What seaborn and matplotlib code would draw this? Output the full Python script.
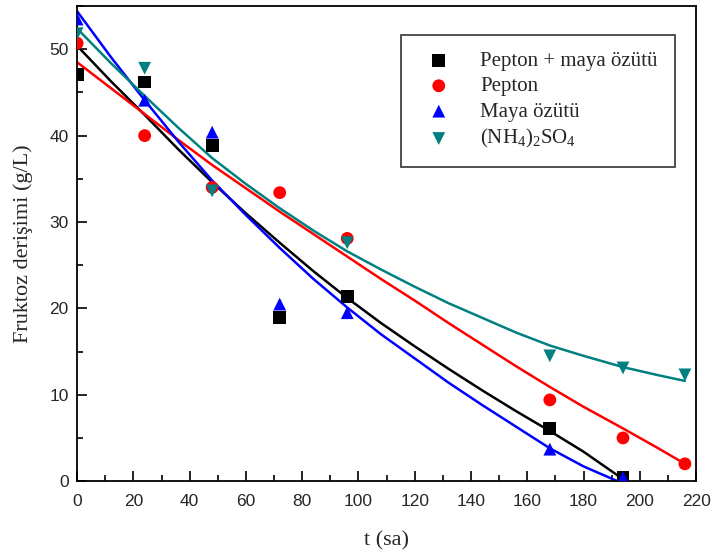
import matplotlib
matplotlib.use("Agg")
import matplotlib.pyplot as plt
from matplotlib.ticker import MultipleLocator
import seaborn as sns

# ---- data ----
series_names = ["Pepton + maya özütü", "Pepton", "Maya özütü", "(NH$_4$)$_2$SO$_4$"]

t_black = [0, 24, 48, 72, 96, 168, 194]
y_black = [47.1, 46.2, 38.9, 18.9, 21.4, 6.1, 0.4]

t_red = [0, 24, 48, 72, 96, 168, 194, 216]
y_red = [50.7, 40.0, 34.0, 33.4, 28.1, 9.4, 5.0, 2.0]

t_blue = [0, 24, 48, 72, 96, 168, 194]
y_blue = [53.5, 44.1, 40.4, 20.5, 19.5, 3.7, 0.4]

t_teal = [0, 24, 48, 96, 168, 194, 216]
y_teal = [51.8, 47.8, 33.6, 27.6, 14.5, 13.1, 12.3]

# fitted curves
fit_t_black = [0, 12, 24, 36, 48, 60, 72, 84, 96, 108, 120, 132, 144, 156, 168, 180, 195]
fit_y_black = [50.4, 46.3, 42.4, 38.4, 34.6, 31.0, 27.6, 24.3, 21.2, 18.3, 15.6, 13.0, 10.5, 8.1, 5.8, 3.4, 0.0]
fit_t_red = [0, 12, 24, 36, 48, 60, 72, 84, 96, 108, 120, 132, 144, 156, 168, 180, 194, 206, 216]
fit_y_red = [48.5, 45.5, 42.5, 39.5, 36.6, 33.9, 31.2, 28.6, 26.0, 23.4, 20.9, 18.3, 15.8, 13.3, 10.9, 8.6, 6.1, 3.9, 2.0]
fit_t_blue = [0, 12, 24, 36, 48, 60, 72, 84, 96, 108, 120, 132, 144, 156, 168, 180, 192]
fit_y_blue = [54.4, 49.1, 44.1, 39.3, 34.8, 30.8, 27.0, 23.4, 20.1, 17.0, 14.2, 11.4, 8.8, 6.3, 3.8, 1.7, 0.0]
fit_t_teal = [0, 12, 24, 36, 48, 60, 72, 84, 96, 108, 120, 132, 144, 156, 168, 180, 194, 206, 216]
fit_y_teal = [52.4, 48.4, 44.6, 40.9, 37.4, 34.4, 31.6, 29.0, 26.6, 24.5, 22.5, 20.6, 18.9, 17.2, 15.7, 14.5, 13.2, 12.3, 11.6]

colors = ["#000000", "#ff0000", "#0000ff", "#008080"]
markers = ["s", "o", "^", "v"]

sns.set_style("ticks")
plt.rcParams["font.family"] = ["Liberation Sans", "DejaVu Sans"]
plt.rcParams["mathtext.fontset"] = "custom"
plt.rcParams["mathtext.rm"] = "Liberation Serif"
plt.rcParams["mathtext.it"] = "Liberation Serif:italic"
plt.rcParams["mathtext.bf"] = "Liberation Serif:bold"

fig = plt.figure(figsize=(7.14, 5.53), dpi=100)
ax = fig.add_axes([0.108, 0.130, 0.867, 0.859])

pts = [(t_black, y_black), (t_red, y_red), (t_blue, y_blue), (t_teal, y_teal)]
fits = [(fit_t_black, fit_y_black), (fit_t_red, fit_y_red),
        (fit_t_blue, fit_y_blue), (fit_t_teal, fit_y_teal)]

for (ft, fy), c in zip(fits, colors):
    sns.lineplot(x=ft, y=fy, color=c, linewidth=1.8, ax=ax, legend=False, zorder=2)

for (t, y), c, m, name in zip(pts, colors, markers, series_names):
    sns.scatterplot(x=t, y=y, color=c, marker=m, s=85, edgecolor="none",
                    ax=ax, zorder=3, label=name)

ax.set_xlim(0, 220)
ax.set_ylim(0, 55)
ax.xaxis.set_major_locator(MultipleLocator(20))
ax.xaxis.set_minor_locator(MultipleLocator(10))
ax.yaxis.set_major_locator(MultipleLocator(10))
ax.yaxis.set_minor_locator(MultipleLocator(5))
ax.tick_params(which="both", direction="in", top=False, right=False,
               labelsize=12.5, width=1.2, color="black")
ax.tick_params(which="major", length=7)
ax.tick_params(which="minor", length=4)
ax.tick_params(axis="x", pad=9)
ax.tick_params(axis="y", pad=6)
for sp in ax.spines.values():
    sp.set_visible(True)
    sp.set_linewidth(1.3)
    sp.set_color("black")

ax.set_xlabel("t (sa)", fontsize=16, family=["Liberation Serif"], labelpad=16)
ax.set_ylabel("Fruktoz derişimi (g/L)", fontsize=16, family=["Liberation Serif"], labelpad=12)

leg = ax.legend(loc="upper right", bbox_to_anchor=(0.982, 0.962),
                prop={"family": "Liberation Serif", "size": 15},
                frameon=True, fancybox=False, edgecolor="black",
                handletextpad=1.0, borderpad=0.8, labelspacing=0.28,
                markerscale=1.0)
leg.get_frame().set_linewidth(1.2)

fig.savefig("out.png", dpi=100)
